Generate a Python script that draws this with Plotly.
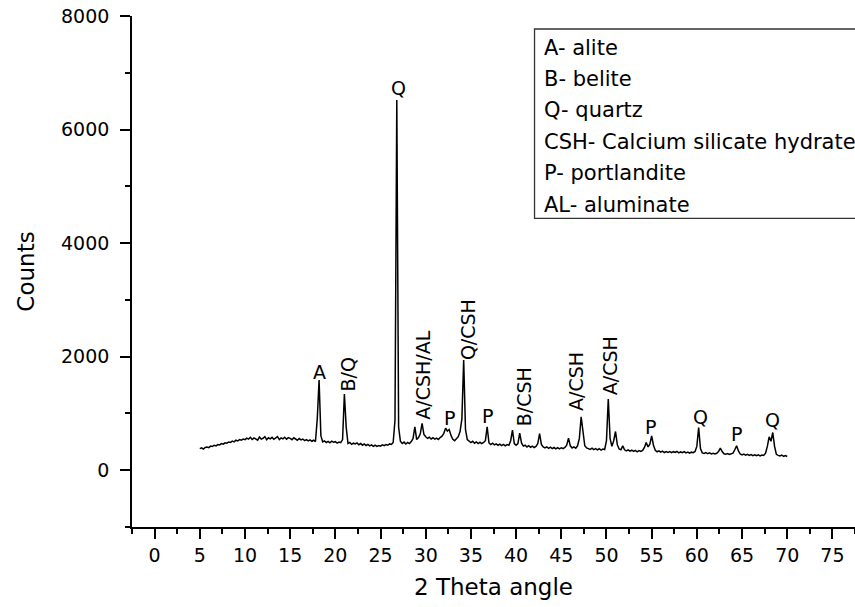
import numpy as np
import plotly.graph_objects as go

# XRD scan: 2-theta from 5.0 to 70.0 deg, step 0.2 deg
scan_start = 5.0
scan_step = 0.2

counts_05_10 = [380, 395, 372, 401, 410, 398, 425, 418, 440, 428, 452, 445, 470,
                458, 482, 476, 498, 490, 512, 500, 528, 515, 540, 530, 548]
counts_10_15 = [538, 566, 549, 580, 541, 570, 556, 529, 585, 548, 562, 590, 537,
                571, 552, 578, 544, 566, 592, 540, 569, 553, 581, 547, 575]
counts_15_20 = [560, 538, 571, 545, 529, 558, 534, 549, 521, 540, 516, 535, 510,
                528, 505, 905, 1588, 610, 498, 517, 489, 508, 482, 511, 494]
counts_20_25 = [503, 478, 497, 486, 540, 1341, 760, 470, 489, 455, 476, 462, 481,
                449, 470, 441, 463, 436, 455, 428, 447, 421, 440, 418, 436]
counts_25_30 = [425, 446, 431, 452, 440, 463, 455, 490, 880, 6520, 760, 510, 470,
                495, 462, 488, 470, 505, 560, 764, 540, 575, 640, 823, 630]
counts_30_35 = [590, 562, 580, 551, 572, 548, 566, 540, 575, 600, 650, 741, 690,
                717, 610, 545, 520, 548, 590, 680, 900, 1941, 720, 540, 505]
counts_35_40 = [488, 510, 476, 498, 470, 492, 468, 489, 520, 764, 480, 452, 476,
                448, 465, 440, 458, 434, 455, 430, 450, 438, 520, 706, 470]
counts_40_45 = [440, 470, 653, 480, 425, 440, 410, 432, 405, 425, 400, 420, 470,
                646, 455, 410, 392, 412, 385, 405, 380, 400, 378, 398, 375]
counts_45_50 = [396, 382, 402, 440, 565, 430, 392, 410, 388, 430, 560, 941, 640,
                430, 392, 385, 368, 388, 362, 380, 358, 378, 355, 372, 365]
counts_50_55 = [520, 1253, 560, 420, 520, 682, 450, 375, 360, 429, 360, 340, 358,
                335, 352, 330, 348, 325, 345, 330, 350, 400, 487, 410, 460]
counts_55_60 = [605, 440, 350, 325, 340, 318, 335, 312, 330, 315, 328, 308, 326,
                312, 330, 305, 322, 310, 328, 305, 320, 300, 318, 310, 330]
counts_60_65 = [420, 752, 380, 305, 295, 312, 290, 305, 288, 300, 285, 298, 330,
                388, 330, 290, 280, 295, 278, 290, 300, 360, 429, 340, 285]
counts_65_70 = [270, 284, 266, 280, 262, 276, 258, 272, 255, 270, 252, 268, 260,
                300, 420, 588, 510, 664, 420, 280, 262, 250, 265, 245, 258, 242]

counts = (counts_05_10 + counts_10_15 + counts_15_20 + counts_20_25 + counts_25_30
          + counts_30_35 + counts_35_40 + counts_40_45 + counts_45_50 + counts_50_55
          + counts_55_60 + counts_60_65 + counts_65_70)
two_theta = np.round(scan_start + scan_step * np.arange(len(counts)), 1)

# Phase labels over the peaks: text, 2-theta, counts, rotated?
peak_labels = ["A", "B/Q", "Q", "A/CSH/AL", "P", "Q/CSH", "P", "B/CSH",
               "A/CSH", "A/CSH", "P", "Q", "P", "Q"]
peak_label_x = [18.29, 21.38, 26.99, 29.70, 32.63, 34.62, 36.80, 40.82,
                46.65, 50.33, 54.87, 60.40, 64.38, 68.33]
peak_label_y = [1723, 1682, 6732, 1664, 923, 2476, 958, 1294,
                1558, 1841, 764, 941, 641, 888]
peak_label_vertical = [False, True, False, True, False, True, False, True,
                       True, True, False, False, False, False]

phase_key = ["A- alite", "B- belite", "Q- quartz",
             "CSH- Calcium silicate hydrate", "P- portlandite", "AL- aluminate"]

FONT = "DejaVu Sans"

fig = go.Figure()
fig.add_trace(go.Scatter(
    x=two_theta, y=counts, mode="lines",
    line=dict(color="black", width=1.5),
    showlegend=False, hoverinfo="skip",
))

for txt, lx, ly, vert in zip(peak_labels, peak_label_x, peak_label_y, peak_label_vertical):
    fig.add_annotation(
        x=lx, y=ly, xref="x", yref="y", text=txt, showarrow=False,
        textangle=-90 if vert else 0, xanchor="center", yanchor="middle",
        font=dict(family=FONT, size=19, color="black"),
    )

# Key box in the upper right
key_top, key_bottom = 7771, 4435
fig.add_shape(type="rect", xref="x", yref="y", x0=42.04, x1=78.5,
              y0=key_bottom, y1=key_top,
              line=dict(color="#333333", width=1.3), fillcolor="rgba(0,0,0,0)")
key_rows_y = [7436, 6889, 6341, 5783, 5233, 4668]
for txt, ry in zip(phase_key, key_rows_y):
    fig.add_annotation(
        x=42.92, y=ry, xref="x", yref="y", text=txt, showarrow=False,
        xanchor="left", yanchor="middle",
        font=dict(family=FONT, size=21, color="black"),
    )

axis_common = dict(
    showline=True, linecolor="black", linewidth=1.6,
    ticks="outside", ticklen=10, tickwidth=1.5, tickcolor="black",
    showgrid=False, zeroline=False,
    tickfont=dict(family=FONT, size=19, color="black"),
)

fig.update_xaxes(
    range=[-2.5, 77.5], dtick=5, tick0=0,
    minor=dict(dtick=2.5, ticklen=5, tickwidth=1.5, tickcolor="black", ticks="outside"),
    title=dict(text="2 Theta angle", font=dict(family=FONT, size=23, color="black"),
               standoff=14),
    **axis_common,
)
fig.update_yaxes(
    range=[-1000, 8000], dtick=2000, tick0=0,
    minor=dict(dtick=1000, ticklen=5, tickwidth=1.5, tickcolor="black", ticks="outside"),
    ticklabelstandoff=7,
    title=dict(text="Counts", font=dict(family=FONT, size=23, color="black"),
               standoff=20),
    **axis_common,
)

fig.update_layout(
    width=855, height=607,
    margin=dict(l=132, r=0, t=16, b=80),
    paper_bgcolor="white", plot_bgcolor="white",
    showlegend=False,
)

fig.write_html("out.html")
